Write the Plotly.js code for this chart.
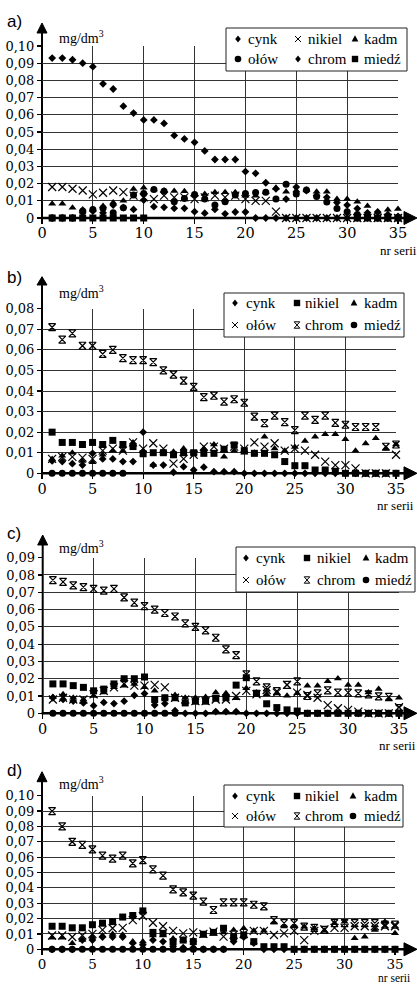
<!DOCTYPE html>
<html><head><meta charset="utf-8">
<script src="https://cdn.plot.ly/plotly-3.0.1.min.js"></script>
<style>html,body{margin:0;padding:0;background:#fff}#chart{width:417px;height:984px}</style>
</head><body><div id="chart"></div>
<script>
// ---------------- DATA ----------------
const nrSerii = [1,2,3,4,5,6,7,8,9,10,11,12,13,14,15,16,17,18,19,20,21,22,23,24,25,26,27,28,29,30,31,32,33,34,35];
const seriesNames = ['cynk','nikiel','kadm','ołów','chrom','miedź'];
const xTickVals = [0,5,10,15,20,25,30,35];
const xTickText = ['0','5','10','15','20','25','30','35'];
const yTickVals10 = [0,0.01,0.02,0.03,0.04,0.05,0.06,0.07,0.08,0.09,0.10];
const yTickText10 = ['0','0,01','0,02','0,03','0,04','0,05','0,06','0,07','0,08','0,09','0,10'];
const yTickVals09 = [0,0.01,0.02,0.03,0.04,0.05,0.06,0.07,0.08,0.09];
const yTickText09 = ['0','0,01','0,02','0,03','0,04','0,05','0,06','0,07','0,08','0,09'];
const yTickVals08 = [0,0.01,0.02,0.03,0.04,0.05,0.06,0.07,0.08];
const yTickText08 = ['0','0,01','0,02','0,03','0,04','0,05','0,06','0,07','0,08'];

// panel a)
const a_cynk   = [0.093,0.093,0.092,0.090,0.088,0.078,0.075,0.065,0.061,0.057,0.057,0.055,0.048,0.046,0.044,0.039,0.034,0.034,0.034,0.027,0.026,0.0205,0.017,0.011,0.018,0.016,0.013,0.012,0.009,0.0075,0.0055,0.003,0.0035,0.002,0.001];
const a_nikiel = [0.018,0.018,0.017,0.016,0.0137,0.0147,0.016,0.015,0.013,0.012,0.011,0.013,0.012,0.012,0.011,0.012,0.013,0.012,0.013,0.011,0.010,0.010,0.0037,0,0,0,0,0,0,0,0,0,0,0,0];
const a_kadm   = [0.0083,0.0083,0.006,0.005,0.005,0.007,0.009,0.010,0.0168,0.0176,0.0166,0.016,0.0157,0.0155,0.0135,0.014,0.015,0.015,0.015,0.013,0.013,0.015,0.0176,0.0153,0.016,0.0163,0.0152,0.0152,0.011,0.011,0.0095,0.007,0.0035,0.0048,0.0052];
const a_olow   = [0,0,0,0.004,0.005,0.0056,0.003,0.006,0.0133,0.0143,0.0166,0.0155,0.0095,0.0114,0.0137,0.011,0.0076,0.0095,0.0134,0.0143,0.0148,0.015,0.011,0.0196,0.014,0.0163,0.0125,0.0093,0.0055,0.0037,0.002,0.001,0,0,0];
const a_chrom  = [0,0,0,0.003,0.004,0.003,0.0075,0.006,0.005,0.0104,0.0066,0.0062,0.0056,0.0056,0.0037,0.0028,0.005,0.0024,0.0035,0.0035,0,0,0,0,0,0,0,0,0,0,0,0,0,0,0];
const a_miedz  = [0,0,0,0,0,0,0,0,0,0,null,null,null,null,null,null,null,null,null,null,null,null,null,null,null,null,null,null,null,null,0,0,0,0,0];

// panel b)
const b_cynk   = [0.006,0.0057,0.0047,0.004,0.0097,0.007,0.007,0.0057,0.0057,0.020,0.004,0.004,0.0005,0.0032,0.0016,0.003,0.0008,0.0008,0.0008,0,0,0,0,0,0,0,0,0,0,0,0,0,0,0,0];
const b_nikiel = [0.020,0.015,0.015,0.014,0.015,0.014,0.016,0.014,0.013,0.0095,0.010,0.010,0.009,0.010,0.010,0.0097,0.0097,0.0117,0.0138,0.011,0.0097,0.0097,0.009,0.0057,0.0037,0.0037,0.0016,0.0016,0.001,0,0,0,0,0,0];
const b_kadm   = [0.007,0.0085,0.010,0.006,0.0054,0.009,0.011,0.011,0.015,0.011,0.004,0.010,0.0105,0.012,0.010,0.012,0.014,0.008,0.011,0.010,0.010,0.0178,0.012,0.011,0.0128,0.0157,0.0178,0.019,0.019,0.0165,0.0109,0.0145,0.017,0.012,0.014];
const b_olow   = [0.007,0.008,0.008,0.0076,0.007,0.011,0.012,0.011,0.015,0.012,0.0146,0.012,0.0047,0.007,0.009,0.013,0.013,0.012,0.013,0.012,0.015,0.013,0.0146,0.011,0.012,0.011,0.009,0.0057,0.004,0.004,0.0024,0,0,0,0.009];
const b_chrom  = [0.071,0.065,0.068,0.062,0.062,0.058,0.060,0.056,0.055,0.055,0.054,0.050,0.048,0.045,0.042,0.037,0.0377,0.0348,0.036,0.0343,0.0275,0.0244,0.028,0.0249,0.021,0.028,0.026,0.028,0.0245,0.0236,0.0225,0.0225,0.0225,0.0129,0.014];
const b_miedz  = [0,0,0,0,0,0,0,0,null,null,null,null,null,null,null,null,null,null,null,null,null,null,null,null,null,null,null,null,null,null,null,null,null,null,null];

// panel c)
const c_cynk   = [0.009,0.008,0.0071,0.006,0.0044,0.0063,0.0056,0.007,0.0104,0.0114,0.0048,0.0056,0.0015,0,0,0,0.001,0.001,0.001,0,0,0,0,0,0,0,0,0,0,0,0,0,0,0,0];
const c_nikiel = [0.017,0.017,0.016,0.015,0.013,0.014,0.017,0.020,0.020,0.021,0.008,0.009,0.009,0.006,0.007,0.007,0.0087,0.009,0.0163,0.0206,0.0116,0.0055,0.0033,0.002,0.0013,0,0,0,0,0,0,0,0,0,0];
const c_kadm   = [0.0094,0.011,0.009,0.008,0.010,0.012,0.015,0.016,0.017,0.015,0.013,0.009,0.0106,0.009,0.009,0.0094,0.012,0.0116,0.0087,0.0145,0.012,0.011,0.0116,0.0102,0.0116,0.016,0.016,0.0185,0.0202,0.0164,0.0164,0.012,0.014,0.008,0.009];
const c_olow   = [0.008,0.009,0.008,0.008,0.011,0.013,0.015,0.017,0.016,0.016,0.0164,0.015,0.009,0.008,0.007,0.007,0.008,0.008,0.010,0.013,0.011,0.0135,0.012,0.0164,0.012,0.0106,0.009,0.0047,0.0029,0.002,0.001,0,0,0,0.0036];
const c_chrom  = [0.077,0.076,0.074,0.073,0.072,0.071,0.072,0.067,0.064,0.062,0.060,0.058,0.056,0.052,0.050,0.048,0.0437,0.037,0.0337,0.0225,0.0185,0.015,0.0128,0.0164,0.0185,0.010,0.0115,0.0133,0.012,0.012,0.0115,0.011,0.0098,0.0095,0.003];
const c_miedz  = [0,0,0,0,0,0,0,0,0,0,0,0,0,null,null,null,null,null,null,null,null,null,null,null,null,null,null,null,null,null,null,null,null,null,null];

// panel d)
const d_cynk   = [0,0,0,0.006,0.006,0.008,0.008,0.008,0.004,0.003,0.006,0.005,0.002,0.001,0.001,0,0,0,0.005,0.008,0.004,0,0,0,0,0,0,0,0,0,0,0,0,0,0];
const d_nikiel = [0.015,0.015,0.014,0.014,0.016,0.017,0.018,0.021,0.022,0.025,0.011,0.0104,0.005,0.006,0.005,0.0098,0.011,0.0137,0.008,0.0093,0.005,0.0017,0.0017,0.0017,0,0,0,0,0,0,0,0,0,0,0];
const d_kadm   = [0.0075,0.0075,0.004,0.006,0.008,0.009,0.010,0.0095,0.005,0.005,0.009,0.009,0.007,0.006,0.006,0.009,0.011,0.011,0.0126,0.0137,0.012,0.012,0.0174,0.0148,0.0148,0.0147,0.0137,0.012,0.017,0.018,0.0072,0.0082,0.0126,0.018,0.0104];
const d_olow   = [0.009,0.009,0.008,0.009,0.010,0.0126,0.0137,0.014,0.019,0.0217,0.0173,0.015,0.012,0.0104,0.011,0.010,0.0115,0.0082,0.0095,0.010,0.012,0.012,0.0093,0.0104,0.012,0.006,0.012,0.013,0.014,0.014,0.015,0.015,0.015,0.015,0.015];
const d_chrom  = [0.090,0.080,0.070,0.068,0.065,0.061,0.059,0.061,0.056,0.058,0.052,0.048,0.039,0.037,0.035,0.031,0.0256,0.0306,0.0306,0.0306,0.029,0.028,0.019,0.017,0.017,0.0147,0.014,0.0126,0.017,0.017,0.017,0.017,0.017,0.016,0.016];
const d_miedz  = [0,0,0,0,0,0,0,0,0,0,0,0,0,0,0,0,0,0,null,null,null,null,null,null,null,null,null,null,null,null,null,null,null,null,null];

const panelData = [
  [a_cynk, a_nikiel, a_kadm, a_olow, a_chrom, a_miedz],
  [b_cynk, b_nikiel, b_kadm, b_olow, b_chrom, b_miedz],
  [c_cynk, c_nikiel, c_kadm, c_olow, c_chrom, c_miedz],
  [d_cynk, d_nikiel, d_kadm, d_olow, d_chrom, d_miedz]
];
const panelTickVals = [yTickVals10, yTickVals08, yTickVals09, yTickVals10];
const panelTickText = [yTickText10, yTickText08, yTickText09, yTickText10];

// ---------------- STYLE / LAYOUT ----------------
const W = 417, H = 984;
const SERIF = 'Liberation Serif, Times New Roman, Times, serif';
const SERIF2 = 'DejaVu Serif, Liberation Serif, serif';
const SANS = 'Liberation Sans, Arial, sans-serif';
const fx = v => v / W;
const fy = v => 1 - v / H;
const symA = ['diamond','x','triangle','circle','diamond','square'];
const symB = ['diamond','square','triangle','x','hourglass','circle'];
const plotlySym = {diamond:'diamond', x:'x-thin-open', triangle:'triangle-up', circle:'circle', square:'square', hourglass:'hourglass-open'};
const symSize = {diamond:6, x:8, triangle:7, circle:7, square:7, hourglass:7};

const panels = [
  {label:'a)', x0:42, x35:398, yBot:218, yTop:46, ymax:0.10, tip:23, base:33, labelY:21, unitY:37, xfs:14.5,
   leg:{x0:226,x1:407,y0:28,y1:71,rows:[39,59],sym:[238,298,355],txt:[246,306,362]}, serii:[378,250], seriiSize:13, syms:symA},
  {label:'b)', x0:42, x35:396, yBot:473.3, yTop:308.7, ymax:0.08, tip:276.7, base:285, labelY:278, unitY:292, xfs:14.5,
   leg:{x0:224,x1:404,y0:293,y1:337,rows:[303,325],sym:[235,297,354],txt:[244,303,362]}, serii:[375,505], seriiSize:13, syms:symB},
  {label:'c)', x0:42.7, x35:399, yBot:713.3, yTop:557.7, ymax:0.09, tip:535, base:545, labelY:533, unitY:547, xfs:14.5,
   leg:{x0:236,x1:415,y0:547,y1:592,rows:[558,580],sym:[246,307,366],txt:[254,315,373]}, serii:[377,745], seriiSize:13, syms:symB},
  {label:'d)', x0:42, x35:395, yBot:949.3, yTop:795.7, ymax:0.10, tip:771.7, base:781.7, labelY:770, unitY:783, xfs:13.5,
   leg:{x0:224,x1:403,y0:785,y1:827,rows:[796,816],sym:[235,297,353],txt:[244,303,362]}, serii:[376,978], seriiSize:11.5, syms:symB}
];

function pstr(pts, close){
  return 'M' + pts.map(p => fx(p[0]).toFixed(5) + ',' + fy(p[1]).toFixed(5)).join('L') + (close ? 'Z' : '');
}

const traces = [];
const shapes = [];
const annotations = [];
const layout = {
  width: W, height: H, margin:{l:0,r:0,t:0,b:0},
  paper_bgcolor:'#fff', plot_bgcolor:'rgba(0,0,0,0)', showlegend:false,
  font:{family:SERIF, color:'#000', size:14}
};

panels.forEach((p, i) => {
  const xa = i === 0 ? 'x' : 'x' + (i + 1);
  const ya = i === 0 ? 'y' : 'y' + (i + 1);
  const xk = i === 0 ? 'xaxis' : 'xaxis' + (i + 1);
  const yk = i === 0 ? 'yaxis' : 'yaxis' + (i + 1);
  layout[xk] = {
    domain:[fx(p.x0), fx(p.x35)], range:[0,35], anchor:ya,
    tickmode:'array', tickvals:xTickVals, ticktext:xTickText,
    showgrid:true, gridcolor:'#333', gridwidth:1, zeroline:false, showline:false,
    ticks:'outside', ticklen:5, tickwidth:1.2, tickcolor:'#000', ticklabelstandoff:-3,
    tickfont:{family:SERIF2, size:p.xfs, color:'#000'}, fixedrange:true
  };
  layout[yk] = {
    domain:[fy(p.yBot), fy(p.yTop)], range:[0, p.ymax], anchor:xa,
    tickmode:'array', tickvals:panelTickVals[i], ticktext:panelTickText[i],
    showgrid:true, gridcolor:'#333', gridwidth:1, zeroline:false, showline:false,
    ticks:'outside', ticklen:4, tickwidth:1.2, tickcolor:'#000',
    tickfont:{family:SERIF2, size:13, color:'#000'}, fixedrange:true
  };
  panelData[i].forEach((vals, s) => {
    const k = p.syms[s];
    const open = (k === 'x' || k === 'hourglass');
    traces.push({
      type:'scatter', mode:'markers', name:seriesNames[s], x:nrSerii, y:vals,
      xaxis:xa, yaxis:ya, cliponaxis:false, showlegend:false, hoverinfo:'skip',
      marker:{symbol:plotlySym[k], size:symSize[k], color:'#000',
              line:{color:'#000', width: open ? 1.2 : 0}}
    });
  });

  // axis arrows
  shapes.push({type:'line', xref:'paper', yref:'paper', layer:'below',
    x0:fx(p.x0), x1:fx(p.x0), y0:fy(p.yBot + 1), y1:fy(p.base), line:{color:'#000', width:2}});
  shapes.push({type:'path', xref:'paper', yref:'paper', layer:'below',
    path:pstr([[p.x0, p.tip],[p.x0 + 5, p.base],[p.x0 - 5, p.base]], true), fillcolor:'#000', line:{color:'#000', width:1}});
  shapes.push({type:'line', xref:'paper', yref:'paper', layer:'below',
    x0:fx(p.x0 - 1), x1:fx(405), y0:fy(p.yBot), y1:fy(p.yBot), line:{color:'#000', width:2.5}});
  shapes.push({type:'path', xref:'paper', yref:'paper', layer:'below',
    path:pstr([[404, p.yBot - 6.5],[417, p.yBot],[404, p.yBot + 6.5]], true), fillcolor:'#000', line:{color:'#000', width:1}});

  // legend box
  const L = p.leg;
  shapes.push({type:'rect', xref:'paper', yref:'paper', layer:'above',
    x0:fx(L.x0), x1:fx(L.x1), y0:fy(L.y1), y1:fy(L.y0), fillcolor:'#fff', line:{color:'#222', width:1}});
  seriesNames.forEach((nm, s) => {
    const row = Math.floor(s / 3), col = s % 3;
    const cx = L.sym[col], cy = L.rows[row];
    const k = p.syms[s];
    if (k === 'diamond') {
      shapes.push({type:'path', xref:'paper', yref:'paper', layer:'above',
        path:pstr([[cx, cy - 3.6],[cx + 2.8, cy],[cx, cy + 3.6],[cx - 2.8, cy]], true), fillcolor:'#000', line:{width:0}});
    } else if (k === 'triangle') {
      shapes.push({type:'path', xref:'paper', yref:'paper', layer:'above',
        path:pstr([[cx, cy - 3.8],[cx + 3.4, cy + 2.6],[cx - 3.4, cy + 2.6]], true), fillcolor:'#000', line:{width:0}});
    } else if (k === 'square') {
      shapes.push({type:'rect', xref:'paper', yref:'paper', layer:'above',
        x0:fx(cx - 3.2), x1:fx(cx + 3.2), y0:fy(cy + 3.2), y1:fy(cy - 3.2), fillcolor:'#000', line:{width:0}});
    } else if (k === 'circle') {
      shapes.push({type:'circle', xref:'paper', yref:'paper', layer:'above',
        x0:fx(cx - 3.3), x1:fx(cx + 3.3), y0:fy(cy + 3.3), y1:fy(cy - 3.3), fillcolor:'#000', line:{width:0}});
    } else if (k === 'x') {
      shapes.push({type:'path', xref:'paper', yref:'paper', layer:'above',
        path:pstr([[cx - 3, cy - 3],[cx + 3, cy + 3]], false) + pstr([[cx - 3, cy + 3],[cx + 3, cy - 3]], false),
        line:{color:'#000', width:1}});
    } else if (k === 'hourglass') {
      shapes.push({type:'path', xref:'paper', yref:'paper', layer:'above',
        path:pstr([[cx - 2.8, cy - 3.2],[cx + 2.8, cy - 3.2],[cx - 2.8, cy + 3.2],[cx + 2.8, cy + 3.2]], true),
        line:{color:'#000', width:1}});
    }
    annotations.push({xref:'paper', yref:'paper', x:fx(L.txt[col]), y:fy(cy), xanchor:'left', yanchor:'middle',
      text:nm, showarrow:false, font:{family:SERIF, size:15, color:'#000'}});
  });

  // labels
  annotations.push({xref:'paper', yref:'paper', x:fx(5), y:fy(p.labelY), xanchor:'left', yanchor:'middle',
    text:p.label, showarrow:false, font:{family:SANS, size:17, color:'#000'}});
  annotations.push({xref:'paper', yref:'paper', x:fx(57), y:fy(p.unitY), xanchor:'left', yanchor:'middle',
    text:'mg/dm<sup>3</sup>', showarrow:false, font:{family:SERIF, size:14, color:'#000'}});
  annotations.push({xref:'paper', yref:'paper', x:fx(p.serii[0]), y:fy(p.serii[1]), xanchor:'left', yanchor:'middle',
    text:'nr serii', showarrow:false, font:{family:SERIF, size:p.seriiSize, color:'#000'}});
});

layout.shapes = shapes;
layout.annotations = annotations;
Plotly.newPlot('chart', traces, layout, {staticPlot:true, displayModeBar:false});
</script>
</body></html>
